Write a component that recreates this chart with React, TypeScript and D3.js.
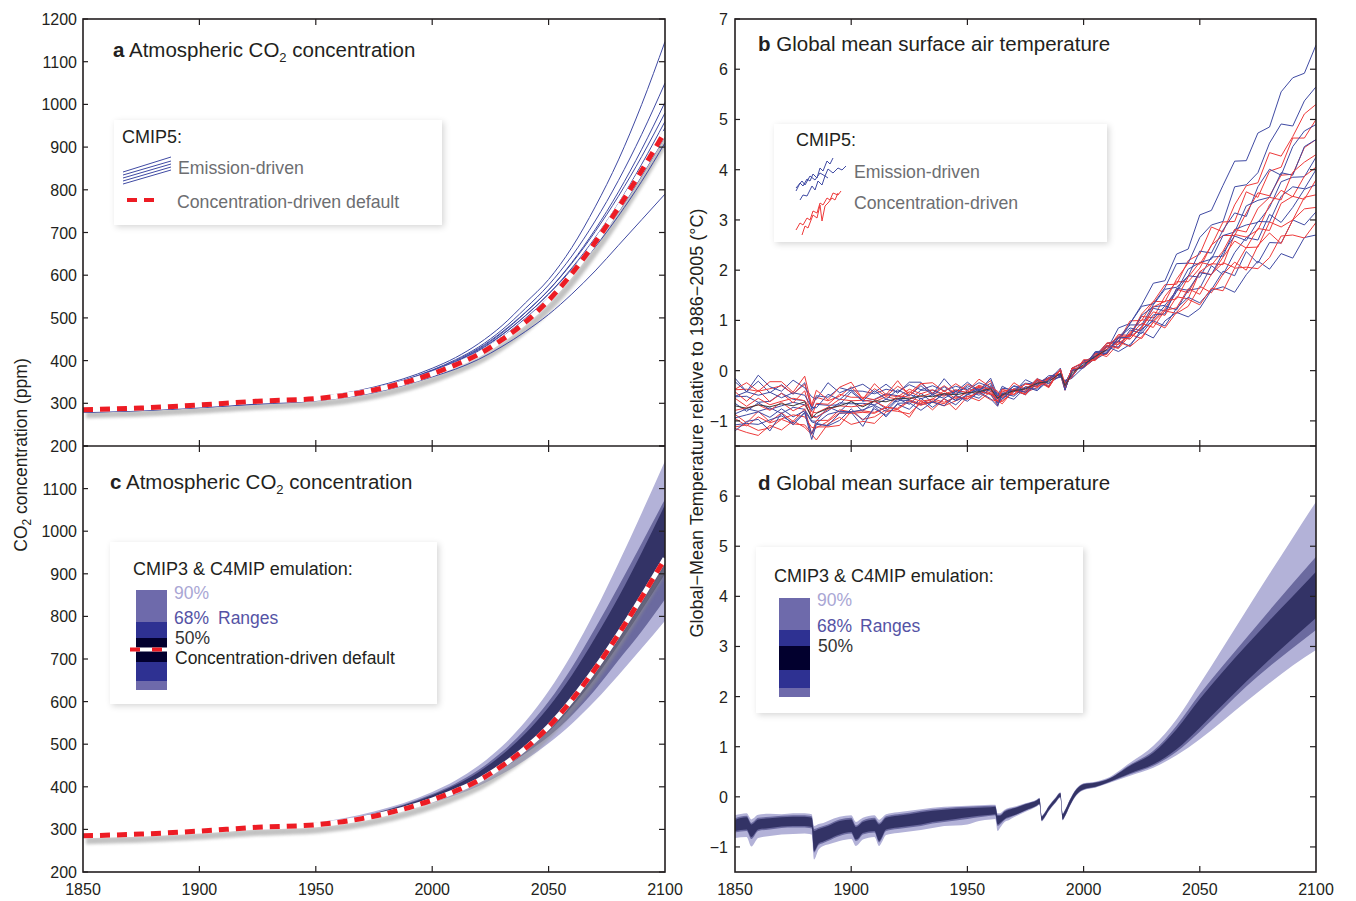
import React from "react";
import * as d3 from "d3";

// ---------------- Panel a / c : CO2 concentration ----------------
const CO2_YEARS = [1850, 1875, 1900, 1925, 1950, 1975, 2000, 2010, 2020, 2030, 2040, 2050, 2060, 2070, 2080, 2090, 2100];
const CO2_CONC_DEFAULT = [285, 289, 296, 305, 311, 331, 369, 390, 415, 449, 490, 541, 604, 677, 758, 845, 936];
const CO2_EMIS_1 = [281, 285, 293, 303, 314, 338, 382, 407, 440, 482, 535, 590, 665, 760, 870, 1000, 1147];
const CO2_EMIS_2 = [281, 285, 293, 302, 312, 335, 378, 402, 432, 472, 522, 577, 645, 727, 822, 930, 1050];
const CO2_EMIS_3 = [280, 284, 292, 301, 311, 333, 375, 398, 427, 465, 512, 565, 630, 707, 795, 895, 1005];
const CO2_EMIS_4 = [281, 285, 293, 302, 312, 334, 377, 400, 429, 467, 513, 565, 628, 702, 785, 878, 980];
const CO2_EMIS_5 = [280, 284, 291, 300, 310, 331, 373, 395, 423, 460, 505, 556, 617, 688, 768, 860, 960];
const CO2_EMIS_6 = [280, 284, 292, 301, 311, 333, 376, 397, 425, 461, 505, 556, 614, 683, 760, 848, 945];
const CO2_EMIS_7 = [279, 283, 290, 299, 308, 329, 370, 392, 420, 455, 499, 548, 606, 673, 748, 833, 925];
const CO2_EMIS_8 = [280, 284, 291, 300, 309, 330, 372, 393, 420, 455, 497, 545, 601, 666, 739, 820, 910];
const CO2_EMIS_9 = [279, 283, 290, 298, 306, 325, 362, 380, 403, 433, 468, 508, 556, 610, 670, 730, 790];
const CO2_EMIS_RUNS = [CO2_EMIS_1, CO2_EMIS_2, CO2_EMIS_3, CO2_EMIS_4, CO2_EMIS_5, CO2_EMIS_6, CO2_EMIS_7, CO2_EMIS_8, CO2_EMIS_9];

const CO2_BAND_YEARS = [1850, 1900, 1950, 1975, 2000, 2010, 2020, 2030, 2040, 2050, 2060, 2070, 2080, 2090, 2100];
const CO2_P05 = [283, 294, 308, 327, 362, 380, 402, 430, 463, 502, 548, 602, 662, 725, 790];
const CO2_P16 = [284, 295, 309, 330, 366, 386, 410, 441, 478, 518, 568, 628, 697, 765, 840];
const CO2_P25 = [285, 296, 311, 333, 370, 391, 416, 449, 488, 530, 588, 655, 733, 815, 900];
const CO2_P75 = [286, 297, 313, 337, 380, 404, 435, 475, 525, 587, 662, 750, 845, 950, 1062];
const CO2_P84 = [286, 298, 314, 338, 383, 408, 440, 482, 535, 600, 680, 772, 870, 972, 1075];
const CO2_P95 = [287, 299, 316, 342, 388, 415, 450, 495, 553, 625, 712, 813, 925, 1043, 1165];

// ---------------- Panel b : temperature runs ----------------
const T_YEARS = [1850, 1855, 1860, 1865, 1870, 1875, 1880, 1883, 1885, 1890, 1895, 1900, 1905, 1910, 1915, 1920, 1925, 1930, 1935, 1940, 1945, 1950, 1955, 1960, 1963, 1965, 1970, 1975, 1980, 1985, 1990, 1992, 1995, 2000,
  2005, 2010, 2015, 2020, 2025, 2030, 2035, 2040, 2045, 2050, 2055, 2060, 2065, 2070, 2075, 2080, 2085, 2090, 2095, 2100];

const T_EMIS_1 = [-.22, -.42, -.21, -.44, -.28, -.47, -.24, -.77, -.50, -.53, -.34, -.40, -.41, -.46, -.37, -.42, -.28, -.38, -.30, -.40, -.31, -.38, -.24, -.33, -.57, -.35, -.38, -.25, -.27, -.14, 0, -.36, -.01, .09,
  .33, .41, .85, .94, 1.31, 1.74, 1.79, 2.32, 2.42, 3.1, 3.19, 3.69, 4.17, 4.18, 4.73, 4.85, 5.55, 5.83, 5.92, 6.48];
const T_EMIS_2 = [-.86, -.76, -.81, -.74, -.85, -.73, -.77, -1.00, -1.01, -.72, -.82, -.60, -.81, -.60, -.76, -.56, -.67, -.45, -.63, -.45, -.59, -.40, -.49, -.32, -.62, -.57, -.36, -.43, -.19, -.26, -.10, -.26, -.11, .17,
  .3, .54, .57, .94, 1.28, 1.33, 1.65, 2.13, 2.14, 2.65, 2.9, 2.97, 3.66, 3.7, 3.94, 4.53, 4.91, 4.87, 5.37, 5.65];
const T_EMIS_3 = [-.52, -.51, -.63, -.61, -.45, -.57, -.60, -.80, -.67, -.69, -.68, -.42, -.61, -.57, -.46, -.50, -.58, -.39, -.39, -.49, -.41, -.34, -.45, -.30, -.50, -.50, -.30, -.36, -.30, -.14, -.08, -.25, .01, .08,
  .35, .34, .66, .91, .91, 1.31, 1.62, 1.66, 1.88, 2.38, 2.34, 2.8, 3.14, 3.07, 3.66, 4.01, 3.89, 4.46, 4.77, 4.9];
const T_EMIS_4 = [-1.08, -1.05, -1.07, -.98, -.90, -1.04, -.83, -1.26, -1.05, -1.10, -.99, -.76, -.99, -.76, -.89, -.67, -.77, -.55, -.73, -.56, -.68, -.47, -.55, -.34, -.68, -.49, -.57, -.34, -.37, -.19, -.13, -.20, -.10, .20,
  .25, .47, .67, .63, .88, 1.24, 1.19, 1.57, 1.89, 1.86, 2.26, 2.28, 2.81, 2.9, 2.95, 3.25, 3.76, 3.85, 3.86, 4.25];
const T_EMIS_5 = [-.65, -.81, -.64, -.77, -.70, -.63, -.68, -.90, -.92, -.80, -.64, -.66, -.65, -.68, -.57, -.62, -.47, -.56, -.48, -.55, -.42, -.47, -.34, -.41, -.45, -.56, -.37, -.43, -.20, -.32, .02, -.34, .04, .06,
  .24, .5, .47, .81, .74, 1.03, 1.29, 1.21, 1.6, 1.64, 2.09, 1.91, 2.35, 2.65, 2.6, 3.11, 2.95, 3.25, 3.61, 3.7];
const T_EMIS_6 = [-.94, -.88, -.82, -.93, -.76, -.92, -.80, -1.02, -1.05, -.87, -.81, -.82, -.78, -.69, -.81, -.58, -.60, -.68, -.63, -.45, -.60, -.48, -.37, -.48, -.64, -.45, -.39, -.48, -.25, -.15, -.07, -.39, .05, .15,
  .22, .36, .59, .49, .83, .99, .89, 1.24, 1.46, 1.35, 1.61, 1.98, 1.89, 2.37, 2.14, 2.55, 2.54, 3.0, 2.9, 3.16];
const T_EMIS_7 = [-.51, -.42, -.49, -.43, -.54, -.44, -.49, -.73, -.74, -.47, -.58, -.38, -.60, -.40, -.57, -.38, -.50, -.30, -.49, -.32, -.48, -.30, -.40, -.25, -.55, -.50, -.31, -.39, -.16, -.25, -.10, -.26, -.11, .17,
  .28, .48, .38, .52, .77, .65, .99, 1.16, 1.07, 1.24, 1.6, 1.67, 1.56, 1.91, 2.18, 2.02, 2.33, 2.24, 2.65, 2.7];
const T_EMIS_8 = [-.15, -.42, -.09, -.32, -.41, -.19, -.34, -.52, -.57, -.24, -.44, -.35, -.27, -.43, -.27, -.45, -.23, -.23, -.47, -.16, -.42, -.23, -.41, -.15, -.50, -.31, -.43, -.18, -.29, -.10, -.10, -.22, -.15, .07,
  .36, .35, .65, .85, .79, 1.11, 1.13, 1.64, 1.6, 1.95, 1.91, 2.35, 2.68, 2.59, 2.97, 2.96, 3.47, 3.66, 3.62, 4.0];
const T_EMIS_9 = [-1.20, -1.01, -.97, -1.20, -.85, -1.08, -.84, -1.37, -1.07, -1.09, -.85, -.83, -1.11, -.71, -.92, -.65, -.64, -.79, -.62, -.70, -.49, -.61, -.42, -.56, -.71, -.45, -.51, -.32, -.40, -.19, .05, -.38, 0, .06,
  .38, .39, .65, .67, 1.1, 1.27, 1.3, 1.59, 2.02, 2.15, 2.22, 2.69, 2.76, 3.28, 3.39, 3.45, 3.94, 3.89, 4.46, 4.6];

const T_CONC_1 = [-1.12, -1.08, -1.19, -1.14, -.97, -1.06, -1.08, -1.25, -1.12, -1.12, -1.09, -.81, -.97, -.92, -.78, -.81, -.86, -.64, -.63, -.70, -.60, -.51, -.60, -.42, -.62, -.61, -.38, -.43, -.34, -.17, -.08, -.25, .01, .08,
  .24, .55, .59, .99, 1.0, 1.37, 1.71, 1.72, 2.19, 2.32, 2.86, 2.76, 3.3, 3.68, 3.74, 4.34, 4.27, 4.66, 5.11, 5.3];
const T_CONC_2 = [-.38, -.37, -.41, -.36, -.30, -.46, -.27, -.72, -.53, -.60, -.51, -.32, -.57, -.36, -.51, -.31, -.45, -.25, -.45, -.30, -.46, -.27, -.37, -.20, -.54, -.37, -.47, -.26, -.33, -.17, -.13, -.20, -.10, .20,
  .22, .42, .72, .7, 1.13, 1.38, 1.37, 1.82, 2.14, 2.12, 2.49, 2.96, 2.97, 3.56, 3.45, 3.97, 4.05, 4.63, 4.63, 5.0];
const T_CONC_3 = [-.87, -1.04, -.81, -1.02, -.84, -1.01, -.76, -1.26, -.99, -.99, -.78, -.82, -.80, -.83, -.73, -.75, -.58, -.66, -.56, -.63, -.52, -.57, -.40, -.46, -.70, -.47, -.48, -.32, -.32, -.17, 0, -.36, -.01, .09,
  .28, .55, .52, .73, 1.08, 1.05, 1.48, 1.77, 1.77, 2.04, 2.5, 2.69, 2.69, 3.14, 3.54, 3.48, 3.89, 3.91, 4.44, 4.6];
const T_CONC_4 = [-.55, -.71, -.55, -.68, -.61, -.55, -.60, -.82, -.84, -.73, -.57, -.60, -.59, -.62, -.52, -.57, -.42, -.52, -.44, -.51, -.39, -.44, -.31, -.39, -.43, -.54, -.36, -.42, -.19, -.32, .02, -.34, .04, .06,
  .3, .49, .46, .76, 1.01, 1.0, 1.23, 1.62, 1.55, 1.97, 2.13, 2.11, 2.71, 2.66, 2.8, 3.3, 3.59, 3.46, 3.87, 4.05];
const T_CONC_5 = [-.79, -.74, -.68, -.79, -.63, -.80, -.68, -.91, -.94, -.77, -.70, -.72, -.69, -.61, -.73, -.50, -.53, -.61, -.57, -.40, -.56, -.43, -.33, -.45, -.61, -.42, -.37, -.47, -.24, -.14, -.07, -.39, .05, .15,
  .33, .32, .66, .63, .87, 1.17, 1.1, 1.47, 1.43, 1.97, 1.91, 2.26, 2.58, 2.44, 2.83, 2.79, 3.33, 3.47, 3.41, 3.8];
const T_CONC_6 = [-.42, -.61, -.39, -.62, -.45, -.64, -.40, -.92, -.65, -.67, -.47, -.53, -.53, -.58, -.48, -.52, -.37, -.46, -.38, -.47, -.38, -.44, -.29, -.37, -.61, -.38, -.41, -.27, -.29, -.15, 0, -.36, -.01, .09,
  .35, .28, .54, .72, .64, .97, 1.19, 1.14, 1.28, 1.68, 1.55, 1.92, 2.16, 2.0, 2.49, 2.74, 2.53, 3.0, 3.22, 3.25];
const T_CONC_7 = [-.95, -1.10, -.92, -1.04, -.96, -.88, -.92, -1.13, -1.14, -1.01, -.84, -.85, -.83, -.85, -.73, -.77, -.61, -.69, -.60, -.66, -.52, -.56, -.42, -.47, -.51, -.61, -.41, -.46, -.22, -.33, .02, -.34, .04, .06,
  .25, .43, .57, .48, .67, .96, .85, 1.16, 1.42, 1.31, 1.64, 1.59, 2.04, 2.06, 2.03, 2.25, 2.68, 2.7, 2.64, 2.95];
const T_CONC_8 = [-1.15, -1.23, -1.29, -1.09, -1.18, -1.00, -1.13, -1.27, -1.38, -1.06, -.93, -1.07, -1.01, -1.05, -.82, -.77, -.93, -.59, -.78, -.56, -.78, -.52, -.44, -.58, -.60, -.66, -.38, -.48, -.17, -.34, .03, -.35, .05, .17,
  .23, .51, .44, .71, .94, .86, 1.2, 1.25, 1.63, 1.52, 1.92, 2.15, 2.05, 2.45, 2.46, 2.96, 2.86, 3.0, 3.45, 3.5];
const T_CONC_9 = [-.37, -.24, -.41, -.22, -.22, -.43, -.11, -.69, -.39, -.58, -.33, -.23, -.57, -.26, -.48, -.20, -.50, -.26, -.24, -.42, -.26, -.41, -.17, -.33, -.41, -.52, -.24, -.39, -.16, -.30, .03, -.25, -.13, .22,
  .2, .47, .69, .68, .84, 1.27, 1.38, 1.43, 1.86, 2.16, 2.1, 2.38, 2.81, 2.76, 3.23, 3.45, 3.4, 3.95, 4.15, 4.3];

const T_EMIS_RUNS = [T_EMIS_1, T_EMIS_2, T_EMIS_3, T_EMIS_4, T_EMIS_5, T_EMIS_6, T_EMIS_7, T_EMIS_8, T_EMIS_9];
const T_CONC_RUNS = [T_CONC_1, T_CONC_2, T_CONC_3, T_CONC_4, T_CONC_5, T_CONC_6, T_CONC_7, T_CONC_8, T_CONC_9];
const T_MEAN_HIST = [-.70, -.75, -.68, -.72, -.66, -.70, -.62, -.95, -.85, -.75, -.70, -.62, -.72, -.60, -.62, -.55, -.56, -.50, -.52, -.46, -.48, -.44, -.42, -.36, -.55, -.48, -.40, -.36, -.25, -.22, -.05, -.30, -.05, .12, .28, .42];

// ---------------- Panel d : emulation ranges ----------------
const TD_YEARS = [1850, 1855, 1857, 1860, 1865, 1870, 1875, 1880, 1882, 1883, 1884, 1886, 1888, 1890, 1895, 1900, 1902, 1903, 1905, 1910, 1912, 1913, 1915, 1920, 1925, 1930, 1935, 1940, 1945, 1950, 1955, 1960, 1962, 1963, 1964, 1966, 1968, 1970, 1975, 1980, 1981, 1982, 1983, 1985, 1988, 1990, 1991, 1992, 1994, 1997, 2000, 2005, 2010,
  2020, 2030, 2040, 2050, 2060, 2070, 2080, 2090, 2100];
const TD_P05 = [-.82, -.80, -.99, -.82, -.78, -.75, -.74, -.73, -.74, -.75, -1.25, -1.05, -.98, -.95, -.88, -.84, -.98, -.95, -.85, -.80, -.98, -.92, -.76, -.72, -.69, -.66, -.62, -.58, -.57, -.55, -.48, -.45, -.44, -.68, -.62, -.50, -.46, -.41, -.30, -.19, -.16, -.49, -.44, -.29, -.12, -.02, -.47, -.40, -.20, .03, .13, .18, .26,
  .42, .58, .83, 1.15, 1.52, 1.9, 2.27, 2.62, 2.93];
const TD_P16 = [-.71, -.68, -.84, -.68, -.65, -.62, -.61, -.61, -.62, -.63, -1.11, -.96, -.92, -.88, -.78, -.73, -.88, -.86, -.75, -.71, -.91, -.85, -.68, -.64, -.61, -.58, -.53, -.50, -.47, -.44, -.41, -.38, -.37, -.58, -.55, -.46, -.42, -.38, -.28, -.18, -.15, -.48, -.43, -.28, -.11, -.01, -.46, -.39, -.19, .04, .14, .19, .27,
  .45, .62, .9, 1.3, 1.75, 2.2, 2.6, 2.97, 3.33];
const TD_P25 = [-.68, -.65, -.80, -.65, -.62, -.59, -.58, -.58, -.59, -.60, -1.08, -.93, -.89, -.85, -.75, -.70, -.85, -.83, -.72, -.68, -.88, -.82, -.65, -.61, -.58, -.55, -.50, -.47, -.44, -.41, -.38, -.36, -.35, -.55, -.52, -.44, -.40, -.37, -.27, -.17, -.14, -.47, -.42, -.27, -.10, 0, -.45, -.38, -.18, .05, .15, .2, .28,
  .47, .65, .95, 1.38, 1.84, 2.3, 2.74, 3.16, 3.57];
const TD_P75 = [-.46, -.41, -.55, -.45, -.43, -.41, -.40, -.40, -.41, -.42, -.68, -.64, -.61, -.58, -.48, -.45, -.60, -.58, -.50, -.45, -.55, -.52, -.42, -.38, -.35, -.31, -.28, -.26, -.24, -.23, -.22, -.21, -.20, -.38, -.38, -.30, -.26, -.23, -.15, -.07, -.04, -.40, -.35, -.20, -.03, .07, -.35, -.28, -.08, .15, .25, .28, .34,
  .62, .88, 1.35, 1.95, 2.5, 3.02, 3.52, 4.0, 4.49];
const TD_P84 = [-.43, -.38, -.52, -.42, -.40, -.38, -.37, -.37, -.38, -.39, -.64, -.61, -.58, -.55, -.45, -.42, -.57, -.55, -.47, -.42, -.52, -.49, -.39, -.35, -.32, -.28, -.25, -.23, -.21, -.20, -.19, -.18, -.18, -.36, -.36, -.28, -.24, -.22, -.14, -.06, -.03, -.39, -.34, -.19, -.02, .08, -.34, -.27, -.07, .16, .26, .29, .35,
  .64, .92, 1.42, 2.05, 2.62, 3.17, 3.72, 4.26, 4.79];
const TD_P95 = [-.37, -.33, -.45, -.36, -.34, -.35, -.33, -.33, -.34, -.35, -.58, -.54, -.52, -.48, -.40, -.37, -.50, -.48, -.42, -.37, -.46, -.43, -.35, -.31, -.28, -.25, -.22, -.20, -.19, -.18, -.17, -.16, -.16, -.33, -.33, -.26, -.22, -.20, -.13, -.05, -.02, -.38, -.33, -.18, -.01, .09, -.33, -.26, -.06, .17, .27, .3, .37,
  .68, 1.02, 1.55, 2.25, 2.98, 3.72, 4.45, 5.17, 5.89];

// ---------------- Axes ticks ----------------
const YEAR_TICKS = [1850, 1900, 1950, 2000, 2050, 2100];
const CO2_TICKS = [200, 300, 400, 500, 600, 700, 800, 900, 1000, 1100, 1200];
const TEMP_TICKS = [-1, 0, 1, 2, 3, 4, 5, 6, 7];

const FONT = "'Liberation Sans', Arial, Helvetica, sans-serif";
const INK = "#231f20";
const BLUE = "#3f4aa3";
const RED = "#ee3a3a";
const DASH_RED = "#ed1c24";
const BAND_LIGHT = "#b3b2d8";
const BAND_MID = "#6b6a9f";
const BAND_DARK = "#333366";
const LEG_LIGHT = "#6e6aab";
const LEG_MID = "#2e3192";
const LEG_DARK = "#02002e";
const LEG_GREY = "#6d6e71";

const fmtTemp = (v: number) => (v < 0 ? "\u2212" + Math.abs(v) : String(v));

type Sc = d3.ScaleLinear<number, number>;

function Ticks({ x, y, xTicks, yTicks }: { x: Sc; y: Sc; xTicks: number[]; yTicks: number[] }) {
  const [xa, xb] = x.range();
  const ya = y.range()[1];
  const yb = y.range()[0];
  const els: React.ReactNode[] = [];
  yTicks.forEach((v, i) => {
    const yy = y(v);
    if (yy < ya - 0.5 || yy > yb + 0.5) return;
    els.push(<line key={"yl" + i} x1={xa} x2={xa + 5} y1={yy} y2={yy} stroke={INK} strokeWidth={1.2} />);
    els.push(<line key={"yr" + i} x1={xb} x2={xb - 6} y1={yy} y2={yy} stroke={INK} strokeWidth={1.2} />);
  });
  xTicks.forEach((v, i) => {
    const xx = x(v);
    els.push(<line key={"xb" + i} x1={xx} x2={xx} y1={yb} y2={yb - 6} stroke={INK} strokeWidth={1.2} />);
    els.push(<line key={"xt" + i} x1={xx} x2={xx} y1={ya} y2={ya + 6} stroke={INK} strokeWidth={1.2} />);
  });
  return <g>{els}</g>;
}

export default function App() {
  const xL = d3.scaleLinear().domain([1850, 2100]).range([83, 665]);
  const xR = d3.scaleLinear().domain([1850, 2100]).range([735, 1316]);
  const yA = d3.scaleLinear().domain([200, 1200]).range([446, 19]);
  const yC = d3.scaleLinear().domain([200, 1200]).range([872, 446]);
  const yB = d3.scaleLinear().domain([-1.5, 7]).range([446, 19]);
  const yD = d3.scaleLinear().domain([-1.5, 7]).range([872, 446]);

  const smoothLine = (years: number[], x: Sc, y: Sc) =>
    d3.line<number>().x((_, i) => x(years[i])).y((d) => y(d)).curve(d3.curveMonotoneX);
  const rawLine = (years: number[], x: Sc, y: Sc) =>
    d3.line<number>().x((_, i) => x(years[i])).y((d) => y(d));
  const band = (years: number[], lo: number[], hi: number[], x: Sc, y: Sc) =>
    d3.area<number>().x((_, i) => x(years[i])).y0((_, i) => y(lo[i])).y1((_, i) => y(hi[i])).curve(d3.curveMonotoneX)(years) || "";

  const lineA = smoothLine(CO2_YEARS, xL, yA);
  const lineC = smoothLine(CO2_YEARS, xL, yC);
  const lineB = rawLine(T_YEARS, xR, yB);

  const redShadow = (line: d3.Line<number>) => (
    <path d={line(CO2_CONC_DEFAULT) || ""} fill="none" stroke="#8f8f8f" strokeWidth={7} opacity={0.55} filter="url(#blur)" transform="translate(3,5)" />
  );
  const redTop = (line: d3.Line<number>) => (
    <g>
      <path d={line(CO2_CONC_DEFAULT) || ""} fill="none" stroke="#fff" strokeWidth={5} />
      <path d={line(CO2_CONC_DEFAULT) || ""} fill="none" stroke={DASH_RED} strokeWidth={5} strokeDasharray="10 7" />
    </g>
  );

  const tickText = { fontFamily: FONT, fontSize: 16, fill: INK } as const;

  const interleaved: { d: number[]; c: string }[] = [];
  T_EMIS_RUNS.forEach((r, i) => {
    interleaved.push({ d: r, c: BLUE });
    interleaved.push({ d: T_CONC_RUNS[i], c: RED });
  });

  // legend glyph shapes (relative offsets)
  const blueGlyph1 = [[0, 33], [4, 25], [7, 28], [11, 21], [14, 23], [17, 16], [21, 20], [24, 10], [27, 13], [31, 3], [34, 6], [37, 0]];
  const blueGlyph2 = [[0, 30], [6, 23], [9, 27], [14, 18], [19, 22], [24, 15], [29, 18], [32, 11], [37, 15], [42, 10], [46, 12], [50, 8]];
  const blueGlyph3 = [[4, 42], [7, 37], [11, 38], [16, 28], [19, 32], [22, 23], [26, 27], [29, 18], [32, 20]];
  const redGlyph1 = [[0, 72], [4, 65], [7, 67], [11, 60], [14, 62], [17, 53], [21, 55], [24, 45], [27, 47], [31, 40], [34, 42], [37, 35], [42, 37], [45, 33]];
  const redGlyph2 = [[6, 77], [9, 68], [12, 70], [17, 57], [21, 60], [24, 47], [26, 63], [29, 48], [32, 45], [36, 40], [39, 42], [42, 35]];
  const glyph = (pts: number[][], ox: number, oy: number) => pts.map((p) => `${ox + p[0]},${oy + p[1]}`).join(" ");
  const fanGlyph = [[184, 170], [181, 167], [178, 164], [175, 161], [172, 157]];

  return (
    <svg width={1356} height={901} style={{ position: "absolute", left: 0, top: 0, background: "#fff" }} fontFamily={FONT}>
      <defs>
        <filter id="blur" x="-5%" y="-20%" width="110%" height="140%">
          <feGaussianBlur stdDeviation={1.8} />
        </filter>
        <filter id="boxShadow" x="-10%" y="-15%" width="125%" height="140%">
          <feDropShadow dx={2} dy={2} stdDeviation={3} floodColor="#000" floodOpacity={0.16} />
        </filter>
        <clipPath id="clipB"><rect x={735} y={19} width={581} height={427} /></clipPath>
        <clipPath id="clipA"><rect x={83} y={19} width={582} height={427} /></clipPath>
        <clipPath id="clipC"><rect x={83} y={446} width={582} height={426} /></clipPath>
        <clipPath id="clipD"><rect x={735} y={446} width={581} height={426} /></clipPath>
      </defs>
      <rect x={0} y={0} width={1356} height={901} fill="#fff" />

      {/* ---------- Panel a ---------- */}
      <g clipPath="url(#clipA)">
        {redShadow(lineA)}
        {CO2_EMIS_RUNS.map((r, i) => (
          <path key={i} d={lineA(r) || ""} fill="none" stroke={BLUE} strokeWidth={1} />
        ))}
        {redTop(lineA)}
      </g>

      {/* ---------- Panel c ---------- */}
      <g clipPath="url(#clipC)">
        <path d={band(CO2_BAND_YEARS, CO2_P05, CO2_P95, xL, yC)} fill={BAND_LIGHT} />
        <path d={band(CO2_BAND_YEARS, CO2_P16, CO2_P84, xL, yC)} fill={BAND_MID} />
        <path d={band(CO2_BAND_YEARS, CO2_P25, CO2_P75, xL, yC)} fill={BAND_DARK} />
        {redShadow(lineC)}
        {redTop(lineC)}
      </g>

      {/* ---------- Panel b ---------- */}
      <g clipPath="url(#clipB)">
        {interleaved.map((s, i) => (
          <path key={i} d={lineB(s.d) || ""} fill="none" stroke={s.c} strokeWidth={1} />
        ))}
        <path d={rawLine(T_YEARS.slice(0, T_MEAN_HIST.length), xR, yB)(T_MEAN_HIST) || ""} fill="none" stroke="#3a3a3a" strokeWidth={1} />
      </g>

      {/* ---------- Panel d ---------- */}
      <g clipPath="url(#clipD)">
        <path d={band(TD_YEARS, TD_P05, TD_P95, xR, yD)} fill={BAND_LIGHT} />
        <path d={band(TD_YEARS, TD_P16, TD_P84, xR, yD)} fill={BAND_MID} />
        <path d={band(TD_YEARS, TD_P25, TD_P75, xR, yD)} fill={BAND_DARK} />
      </g>

      {/* ---------- Frames ---------- */}
      <rect x={83} y={19} width={582} height={853} fill="none" stroke={INK} strokeWidth={1.6} />
      <line x1={83} x2={665} y1={446} y2={446} stroke={INK} strokeWidth={1.6} />
      <rect x={735} y={19} width={581} height={853} fill="none" stroke={INK} strokeWidth={1.6} />
      <line x1={735} x2={1316} y1={446} y2={446} stroke={INK} strokeWidth={1.6} />

      <Ticks x={xL} y={yA} xTicks={YEAR_TICKS.slice(1, -1)} yTicks={CO2_TICKS} />
      <Ticks x={xL} y={yC} xTicks={YEAR_TICKS.slice(1, -1)} yTicks={CO2_TICKS} />
      <Ticks x={xR} y={yB} xTicks={YEAR_TICKS.slice(1, -1)} yTicks={TEMP_TICKS} />
      <Ticks x={xR} y={yD} xTicks={YEAR_TICKS.slice(1, -1)} yTicks={TEMP_TICKS} />

      {/* y tick labels */}
      {CO2_TICKS.map((v) => (
        <text key={"la" + v} x={77} y={yA(v) + 6} textAnchor="end" {...tickText}>{v}</text>
      ))}
      {CO2_TICKS.filter((v) => v < 1200).map((v) => (
        <text key={"lc" + v} x={77} y={yC(v) + 6} textAnchor="end" {...tickText}>{v}</text>
      ))}
      {TEMP_TICKS.map((v) => (
        <text key={"lb" + v} x={728} y={yB(v) + 6} textAnchor="end" {...tickText}>{fmtTemp(v)}</text>
      ))}
      {TEMP_TICKS.filter((v) => v < 7).map((v) => (
        <text key={"ld" + v} x={728} y={yD(v) + 6} textAnchor="end" {...tickText}>{fmtTemp(v)}</text>
      ))}
      {/* x tick labels */}
      {YEAR_TICKS.map((v) => (
        <text key={"xl" + v} x={xL(v)} y={895} textAnchor="middle" {...tickText}>{v}</text>
      ))}
      {YEAR_TICKS.map((v) => (
        <text key={"xr" + v} x={xR(v)} y={895} textAnchor="middle" {...tickText}>{v}</text>
      ))}

      {/* axis titles */}
      <text transform="translate(27,455) rotate(-90)" textAnchor="middle" fontSize={17.5} fill={INK}>
        CO<tspan fontSize={12} dy={4}>2</tspan><tspan dy={-4}> concentration (ppm)</tspan>
      </text>
      <text transform="translate(703,423) rotate(-90)" textAnchor="middle" fontSize={18} fill={INK}>
        Global{"\u2212"}Mean Temperature relative to 1986{"\u2212"}2005 (°C)
      </text>

      {/* panel titles */}
      <text x={113} y={57} fontSize={20.5} fill={INK}>
        <tspan fontWeight="bold">a</tspan> Atmospheric CO<tspan fontSize={13} dy={5}>2</tspan><tspan dy={-5}> concentration</tspan>
      </text>
      <text x={758} y={51} fontSize={20.5} fill={INK}>
        <tspan fontWeight="bold">b</tspan> Global mean surface air temperature
      </text>
      <text x={110} y={489} fontSize={20.5} fill={INK}>
        <tspan fontWeight="bold">c</tspan> Atmospheric CO<tspan fontSize={13} dy={5}>2</tspan><tspan dy={-5}> concentration</tspan>
      </text>
      <text x={758} y={490} fontSize={20.5} fill={INK}>
        <tspan fontWeight="bold">d</tspan> Global mean surface air temperature
      </text>

      {/* ---------- Legend a ---------- */}
      <rect x={114} y={120} width={328} height={105} fill="#fff" filter="url(#boxShadow)" />
      <text x={122} y={143} fontSize={18} fill={INK}>CMIP5:</text>
      {fanGlyph.map((p, i) => (
        <line key={"lg" + i} x1={123} y1={p[0]} x2={171} y2={p[1]} stroke={BLUE} strokeWidth={1} />
      ))}
      <text x={178} y={174} fontSize={17.7} fill={LEG_GREY}>Emission-driven</text>
      <line x1={127} x2={172} y1={205} y2={205} stroke="#8f8f8f" strokeWidth={6} opacity={0.55} filter="url(#blur)" />
      <line x1={127} x2={160} y1={200} y2={200} stroke="#fff" strokeWidth={4} />
      <line x1={127} x2={160} y1={200} y2={200} stroke={DASH_RED} strokeWidth={4} strokeDasharray="10 7" />
      <text x={177} y={208} fontSize={17.7} fill={LEG_GREY}>Concentration-driven default</text>

      {/* ---------- Legend b ---------- */}
      <rect x={774} y={124} width={333} height={118} fill="#fff" filter="url(#boxShadow)" />
      <text x={796} y={146} fontSize={18} fill={INK}>CMIP5:</text>
      <polyline points={glyph(blueGlyph1, 796, 158)} fill="none" stroke={BLUE} strokeWidth={1} />
      <polyline points={glyph(blueGlyph2, 796, 158)} fill="none" stroke={BLUE} strokeWidth={1} />
      <polyline points={glyph(blueGlyph3, 796, 158)} fill="none" stroke={BLUE} strokeWidth={1} />
      <polyline points={glyph(redGlyph1, 796, 158)} fill="none" stroke={RED} strokeWidth={1} />
      <polyline points={glyph(redGlyph2, 796, 158)} fill="none" stroke={RED} strokeWidth={1} />
      <text x={854} y={178} fontSize={17.7} fill={LEG_GREY}>Emission-driven</text>
      <text x={854} y={209} fontSize={17.7} fill={LEG_GREY}>Concentration-driven</text>

      {/* ---------- Legend c ---------- */}
      <rect x={110} y={542} width={327} height={162} fill="#fff" filter="url(#boxShadow)" />
      <text x={133} y={575} fontSize={18} fill={INK}>CMIP3 &amp; C4MIP emulation:</text>
      <rect x={136} y={590} width={31} height={32} fill={LEG_LIGHT} />
      <rect x={136} y={622} width={31} height={16} fill={LEG_MID} />
      <rect x={136} y={638} width={31} height={24} fill={LEG_DARK} />
      <rect x={136} y={662} width={31} height={19} fill={LEG_MID} />
      <rect x={136} y={681} width={31} height={9} fill={LEG_LIGHT} />
      <line x1={132} x2={175} y1={653} y2={653} stroke="#8f8f8f" strokeWidth={5} opacity={0.55} filter="url(#blur)" />
      <line x1={130} x2={167} y1={649.5} y2={649.5} stroke="#fff" strokeWidth={4} />
      <line x1={130} x2={167} y1={649.5} y2={649.5} stroke={DASH_RED} strokeWidth={4} strokeDasharray="10 12" />
      <text x={174} y={599} fontSize={17.5} fill="#a9a6d4">90%</text>
      <text x={174} y={624} fontSize={17.5} fill="#5553a5">68%</text>
      <text x={218} y={624} fontSize={17.5} fill="#5553a5">Ranges</text>
      <text x={175} y={644} fontSize={17.5} fill="#333">50%</text>
      <text x={175} y={664} fontSize={17.5} fill={INK}>Concentration-driven default</text>

      {/* ---------- Legend d ---------- */}
      <rect x={756} y={547} width={327} height={166} fill="#fff" filter="url(#boxShadow)" />
      <text x={774} y={582} fontSize={18} fill={INK}>CMIP3 &amp; C4MIP emulation:</text>
      <rect x={779} y={598} width={31} height={32} fill={LEG_LIGHT} />
      <rect x={779} y={630} width={31} height={16} fill={LEG_MID} />
      <rect x={779} y={646} width={31} height={24} fill={LEG_DARK} />
      <rect x={779} y={670} width={31} height={18} fill={LEG_MID} />
      <rect x={779} y={688} width={31} height={9} fill={LEG_LIGHT} />
      <text x={817} y={606} fontSize={17.5} fill="#a9a6d4">90%</text>
      <text x={817} y={632} fontSize={17.5} fill="#5553a5">68%</text>
      <text x={860} y={632} fontSize={17.5} fill="#5553a5">Ranges</text>
      <text x={818} y={652} fontSize={17.5} fill="#333">50%</text>
    </svg>
  );
}
